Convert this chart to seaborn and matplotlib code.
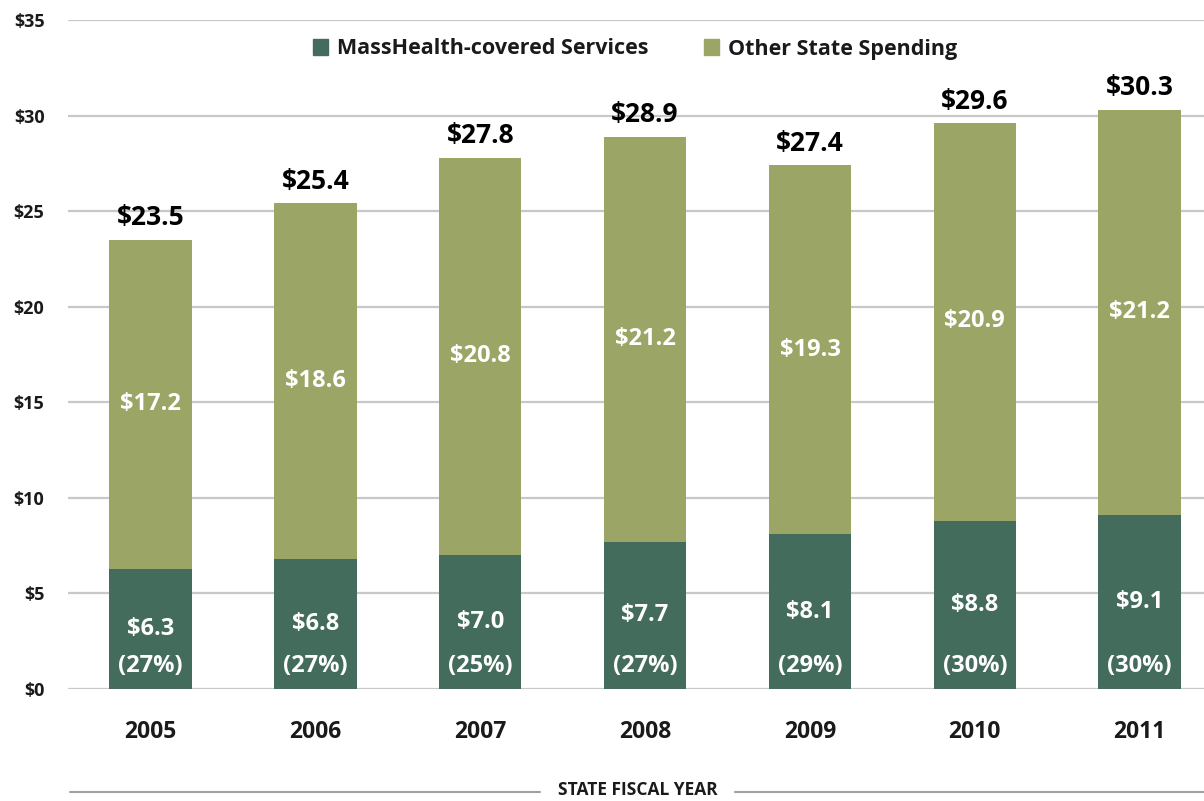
import matplotlib
matplotlib.use("Agg")
import matplotlib.pyplot as plt
from matplotlib.lines import Line2D
import pandas as pd
import seaborn as sns

years = ["2005", "2006", "2007", "2008", "2009", "2010", "2011"]
masshealth = [6.3, 6.8, 7.0, 7.7, 8.1, 8.8, 9.1]
other = [17.2, 18.6, 20.8, 21.2, 19.3, 20.9, 21.2]
totals = [23.5, 25.4, 27.8, 28.9, 27.4, 29.6, 30.3]
shares = [27, 27, 25, 27, 29, 30, 30]

DARK = "#446C5D"
OLIVE = "#9BA566"
GRID = "#C8C8C8"
INK = "#1A1A1A"

sns.set_style("white")
plt.rcParams["font.family"] = ["Open Sans", "DejaVu Sans"]
plt.rcParams["font.weight"] = "bold"

df = pd.DataFrame({"year": years, "masshealth": masshealth,
                   "other": other, "total": totals})

fig = plt.figure(figsize=(12.04, 8.01), dpi=100)
ax = fig.add_axes([68 / 1204, 112 / 801, 1 - 68 / 1204, 669 / 801])

# total bar in olive, MassHealth part drawn over it
sns.barplot(data=df, x="year", y="total", color=OLIVE, width=0.5,
            saturation=1, ax=ax, linewidth=0, zorder=3)
sns.barplot(data=df, x="year", y="masshealth", color=DARK, width=0.5,
            saturation=1, ax=ax, linewidth=0, zorder=3)

ax.set_ylim(0, 35)
ax.set_xlim(-0.5, 6.39)
ax.set_yticks(range(0, 36, 5))
ax.set_yticklabels([f"${v}" for v in range(0, 36, 5)], fontsize=13,
                   color=INK, fontweight="bold")
ax.tick_params(axis="y", length=0, pad=17)
ax.tick_params(axis="x", length=0, pad=22, labelsize=16.5, labelcolor=INK)
for lbl in ax.get_xticklabels():
    lbl.set_fontweight("bold")
ax.yaxis.grid(True, color=GRID, linewidth=1.6, zorder=0)
ax.set_axisbelow(True)
for s in ax.spines.values():
    s.set_visible(False)
ax.set_xlabel("")
ax.set_ylabel("")

for i in range(len(years)):
    ax.text(i, totals[i] + 0.45, f"${totals[i]:.1f}", ha="center", va="bottom",
            fontsize=19, fontweight="bold", color="black", zorder=5)
    ax.text(i, masshealth[i] + other[i] / 2, f"${other[i]:.1f}", ha="center",
            va="center", fontsize=17, fontweight="bold", color="white", zorder=5)
    ax.text(i, masshealth[i] / 2, f"${masshealth[i]:.1f}", ha="center",
            va="center", fontsize=17, fontweight="bold", color="white", zorder=5)
    ax.text(i, 1.2, f"({shares[i]}%)", ha="center", va="center",
            fontsize=17, fontweight="bold", color="white", zorder=5)

handles = [plt.Rectangle((0, 0), 1, 1, color=DARK),
           plt.Rectangle((0, 0), 1, 1, color=OLIVE)]
fig.legend(handles, ["MassHealth-covered Services", "Other State Spending"],
           loc="center", bbox_to_anchor=(635 / 1204, 1 - 49 / 801), ncol=2,
           frameon=False, prop={"size": 15.5, "weight": "bold"},
           handlelength=0.7, handleheight=0.7,
           handletextpad=0.4, columnspacing=2.6, labelcolor=INK)

# axis title with rules on both sides
fig.text(638 / 1204, 1 - 790 / 801, "STATE FISCAL YEAR", ha="center",
         va="center", fontsize=12.5, fontweight="bold", color=INK)
fig.add_artist(Line2D([70 / 1204, 540 / 1204], [1 - 792 / 801] * 2,
                      color="#A0A0A0", linewidth=1.5))
fig.add_artist(Line2D([735 / 1204, 1.0], [1 - 792 / 801] * 2,
                      color="#A0A0A0", linewidth=1.5))

fig.savefig("out.png", dpi=100)
